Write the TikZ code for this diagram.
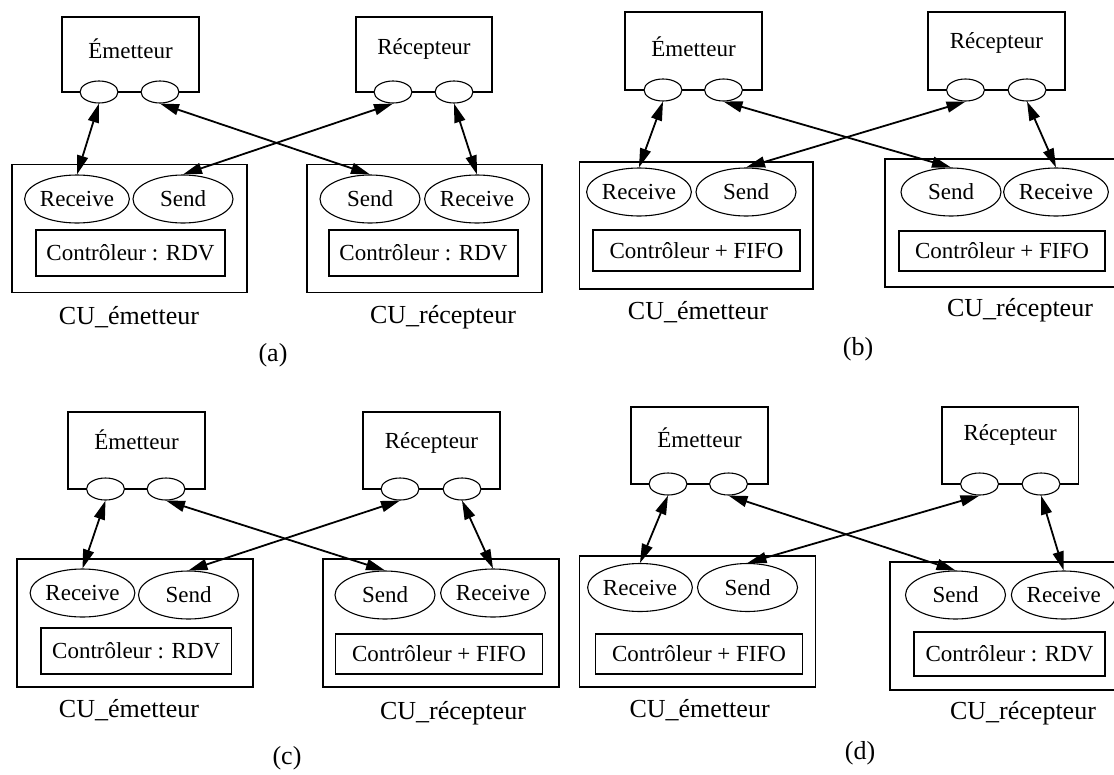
\documentclass[tikz,border=0pt]{standalone}
\usepackage{fontspec}
\setmainfont{Liberation Serif}
\usetikzlibrary{shapes.geometric, arrows.meta}

\begin{document}
\begin{tikzpicture}[x=1pt, y=-1pt,
    procbox/.style={draw, line width=1.1pt, minimum width=137pt, minimum height=77pt, inner sep=0pt},
    port/.style={draw, ellipse, fill=white, line width=1.1pt, minimum width=38pt, minimum height=22pt, inner sep=0pt},
    opnode/.style={draw, ellipse, line width=1.1pt, minimum width=100pt, minimum height=48pt, inner sep=0pt, font=\fontsize{23}{27}\selectfont},
    ctlbox/.style={draw, line width=1.1pt, inner sep=0pt, font=\fontsize{23}{27}\selectfont},
    cubox/.style={draw, line width=1.1pt, minimum width=235pt, minimum height=128pt, inner sep=0pt},
    txt/.style={font=\fontsize{23}{27}\selectfont, inner sep=0pt},
    lbl/.style={font=\fontsize{26}{30}\selectfont, inner sep=0pt},
    arrow/.style={{Triangle[length=19pt,width=11pt]}-{Triangle[length=19pt,width=11pt]}, line width=1.8pt}
]
    \useasboundingbox (0,0) rectangle (1114,774);

    % (a) RDV / RDV
    \node[cubox] (cuEA) at (129.5,228.5) {};
    \node[cubox] (cuRA) at (424.5,228.5) {};
    \node[procbox, minimum height=75pt] (emA) at (130.5,54.5) {};
    \node[txt] (emAt) at (130.5,49) {Émetteur};
    \node[port] (emA1) at (99,92) {};
    \node[port] (emA2) at (160,92) {};
    \node[procbox, minimum width=136pt, minimum height=75pt] (reA) at (424,54.5) {};
    \node[txt] (reAt) at (424,49) {Récepteur};
    \node[port] (reA1) at (393,92) {};
    \node[port] (reA2) at (454,92) {};
    \node[opnode] (recvEA) at (77,199) {Receive};
    \node[opnode] (sendEA) at (183,199) {Send};
    \node[ctlbox, minimum width=189pt, minimum height=46pt] (ctlEA) at (130.5,253) {Contrôleur : RDV};
    \node[opnode] (sendRA) at (370,199) {Send};
    \node[opnode] (recvRA) at (477,199) {Receive};
    \node[ctlbox, minimum width=189pt, minimum height=46pt] (ctlRA) at (423.5,253) {Contrôleur : RDV};
    \node[lbl] (cuEAl) at (129,317) {CU\_émetteur};
    \node[lbl] (cuRAl) at (443,317) {CU\_récepteur};
    \node[lbl] (capA) at (273,355) {(a)};
    \draw[arrow] (emA1.south) -- (recvEA.north);
    \draw[arrow] (emA2.south) -- (sendRA.north);
    \draw[arrow] (reA1.south) -- (sendEA.north);
    \draw[arrow] (reA2.south) -- (recvRA.north);

    % (b) FIFO / FIFO
    \node[cubox, minimum width=233.5pt, minimum height=127pt] (cuEB) at (696.25,225.5) {};
    \node[cubox, minimum width=232pt] (cuRB) at (1001,223) {};
    \node[procbox, minimum height=78pt] (emB) at (693.5,51) {};
    \node[txt] (emBt) at (693.5,47) {Émetteur};
    \node[port] (emB1) at (663,90) {};
    \node[port] (emB2) at (723.5,90) {};
    \node[procbox, minimum height=78pt] (reB) at (996.5,51) {};
    \node[txt] (reBt) at (996.5,43) {Récepteur};
    \node[port] (reB1) at (965.5,90) {};
    \node[port] (reB2) at (1027,90) {};
    \node[opnode] (recvEB) at (639,192) {Receive};
    \node[opnode] (sendEB) at (746,192) {Send};
    \node[ctlbox, minimum width=207pt, minimum height=41pt] (ctlEB) at (696.5,250.5) {Contrôleur + FIFO};
    \node[opnode] (sendRB) at (951,192) {Send};
    \node[opnode] (recvRB) at (1056,192) {Receive};
    \node[ctlbox, minimum width=206pt, minimum height=40pt] (ctlRB) at (1002,251) {Contrôleur + FIFO};
    \node[lbl] (cuEBl) at (698,312) {CU\_émetteur};
    \node[lbl] (cuRBl) at (1020,310) {CU\_récepteur};
    \node[lbl] (capB) at (858,349) {(b)};
    \draw[arrow] (emB1.south) -- (recvEB.north);
    \draw[arrow] (emB2.south) -- (sendRB.north);
    \draw[arrow] (reB1.south) -- (sendEB.north);
    \draw[arrow] (reB2.south) -- (recvRB.north);

    % (c) RDV / FIFO
    \node[cubox, minimum width=236pt] (cuEC) at (135,623) {};
    \node[cubox, minimum width=236pt] (cuRC) at (441,623) {};
    \node[procbox] (emC) at (136.5,450.5) {};
    \node[txt] (emCt) at (136.5,440) {Émetteur};
    \node[port] (emC1) at (105.5,489) {};
    \node[port] (emC2) at (166,489) {};
    \node[procbox] (reC) at (431.5,450.5) {};
    \node[txt] (reCt) at (431.5,443) {Récepteur};
    \node[port] (reC1) at (400,489) {};
    \node[port] (reC2) at (462,489) {};
    \node[opnode] (recvEC) at (82.5,593) {Receive};
    \node[opnode] (sendEC) at (188.5,595) {Send};
    \node[ctlbox, minimum width=190.5pt, minimum height=46pt] (ctlEC) at (136.25,651) {Contrôleur : RDV};
    \node[opnode] (sendRC) at (385,595) {Send};
    \node[opnode] (recvRC) at (493,593) {Receive};
    \node[ctlbox, minimum width=207pt, minimum height=40pt] (ctlRC) at (439,654) {Contrôleur + FIFO};
    \node[lbl] (cuECl) at (129,710) {CU\_émetteur};
    \node[lbl] (cuRCl) at (453,713) {CU\_récepteur};
    \node[lbl] (capC) at (287,758) {(c)};
    \draw[arrow] (emC1.south) -- (recvEC.north);
    \draw[arrow] (emC2.south) -- (sendRC.north);
    \draw[arrow] (reC1.south) -- (sendEC.north);
    \draw[arrow] (reC2.south) -- (recvRC.north);

    % (d) FIFO / RDV
    \node[cubox, minimum width=236pt, minimum height=131pt] (cuED) at (697.6,621.5) {};
    \node[cubox, minimum width=227pt] (cuRD) at (1003.5,626) {};
    \node[procbox] (emD) at (699.5,445.5) {};
    \node[txt] (emDt) at (699.5,438) {Émetteur};
    \node[port] (emD1) at (668,484) {};
    \node[port] (emD2) at (728.5,484) {};
    \node[procbox, minimum width=136.5pt] (reD) at (1010.25,445.5) {};
    \node[txt] (reDt) at (1010.25,435) {Récepteur};
    \node[port] (reD1) at (979.5,484) {};
    \node[port] (reD2) at (1041,484) {};
    \node[opnode] (recvED) at (640,587.5) {Receive};
    \node[opnode] (sendED) at (747.5,587.5) {Send};
    \node[ctlbox, minimum width=207pt, minimum height=40pt] (ctlED) at (699,654) {Contrôleur + FIFO};
    \node[opnode] (sendRD) at (955.5,595) {Send};
    \node[opnode] (recvRD) at (1063.7,595) {Receive};
    \node[ctlbox, minimum width=191pt, minimum height=44pt] (ctlRD) at (1009.5,654) {Contrôleur : RDV};
    \node[lbl] (cuEDl) at (699.6,710) {CU\_émetteur};
    \node[lbl] (cuRDl) at (1023,713) {CU\_récepteur};
    \node[lbl] (capD) at (860,753) {(d)};
    \draw[arrow] (emD1.south) -- (recvED.north);
    \draw[arrow] (emD2.south) -- (sendRD.north);
    \draw[arrow] (reD1.south) -- (sendED.north);
    \draw[arrow] (reD2.south) -- (recvRD.north);
\end{tikzpicture}
\end{document}
